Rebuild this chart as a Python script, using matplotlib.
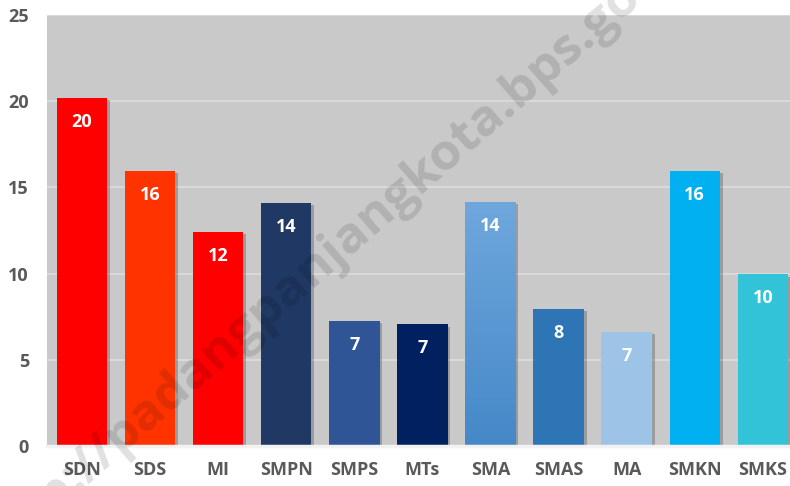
import numpy as np
import matplotlib
matplotlib.use("Agg")
import matplotlib.pyplot as plt
import matplotlib.patheffects as pe
from matplotlib.colors import LinearSegmentedColormap

plt.rcParams['font.family'] = ['Open Sans', 'DejaVu Sans']

kategori = ['SDN', 'SDS', 'MI', 'SMPN', 'SMPS', 'MTs', 'SMA', 'SMAS', 'MA', 'SMKN', 'SMKS']
nilai = [20.2, 15.95, 12.4, 14.1, 7.25, 7.05, 14.15, 7.95, 6.6, 15.95, 9.95]
label = ['20', '16', '12', '14', '7', '7', '14', '8', '7', '16', '10']
warna = ['#FF0000', '#FF3300', '#FF0000', '#203864', '#2F5597', '#002060',
         '#5B9BD5', '#2E75B6', '#9DC3E6', '#00B0F0', '#33C3D8']

fig = plt.figure(figsize=(7.9, 4.86), dpi=100)
ax = fig.add_axes([0.0595, 0.0823, 0.9405, 0.8867])
ax.set_facecolor('#C9C9C9')

x = np.arange(len(kategori))
bars = ax.bar(x, nilai, width=0.74, color=warna, zorder=3)
for b in bars:
    b.set_path_effects([pe.SimplePatchShadow(offset=(2, -1.5), shadow_rgbFace='black', alpha=0.22),
                        pe.Normal()])

# gradasi untuk batang SMA
b = bars[6]
grad = np.linspace(0, 1, 256).reshape(-1, 1)
cm = LinearSegmentedColormap.from_list('sma', ['#4588C8', '#6FA7DD'])
im = ax.imshow(grad, cmap=cm, aspect='auto', origin='lower', zorder=3.5,
               extent=[b.get_x(), b.get_x() + b.get_width(), 0, b.get_height()])
im.set_clip_path(b)

for xi, v, t in zip(x, nilai, label):
    ax.annotate(t, (xi, v), xytext=(0, -24), textcoords='offset pixels',
                ha='center', va='center', color='white', fontsize=13,
                fontweight='bold', zorder=5)

ax.set_xlim(-0.515, 10.40)
ax.set_ylim(0, 25)
ax.set_yticks([0, 5, 10, 15, 20, 25])
ax.yaxis.grid(True, color='#DDDDDD', linewidth=1.2, zorder=1)
ax.set_axisbelow(True)
ax.set_xticks(x)
ax.set_xticklabels(kategori)
ax.tick_params(axis='both', length=0, colors='#595959', labelsize=13)
ax.tick_params(axis='x', pad=11)
ax.tick_params(axis='y', pad=13)
for lb in ax.get_xticklabels() + ax.get_yticklabels():
    lb.set_fontweight('bold')
for s in ['top', 'right', 'left']:
    ax.spines[s].set_visible(False)
ax.spines['bottom'].set_color('#F2F2F2')
ax.spines['bottom'].set_linewidth(2.5)
ax.spines['bottom'].set_zorder(4)

fig.text(0.421, 0.482, 'http://padangpanjangkota.bps.go.id', rotation=41,
         ha='center', va='center', fontsize=37, fontweight='bold',
         color='black', alpha=0.12, zorder=10)

fig.savefig('out.png', dpi=100)
